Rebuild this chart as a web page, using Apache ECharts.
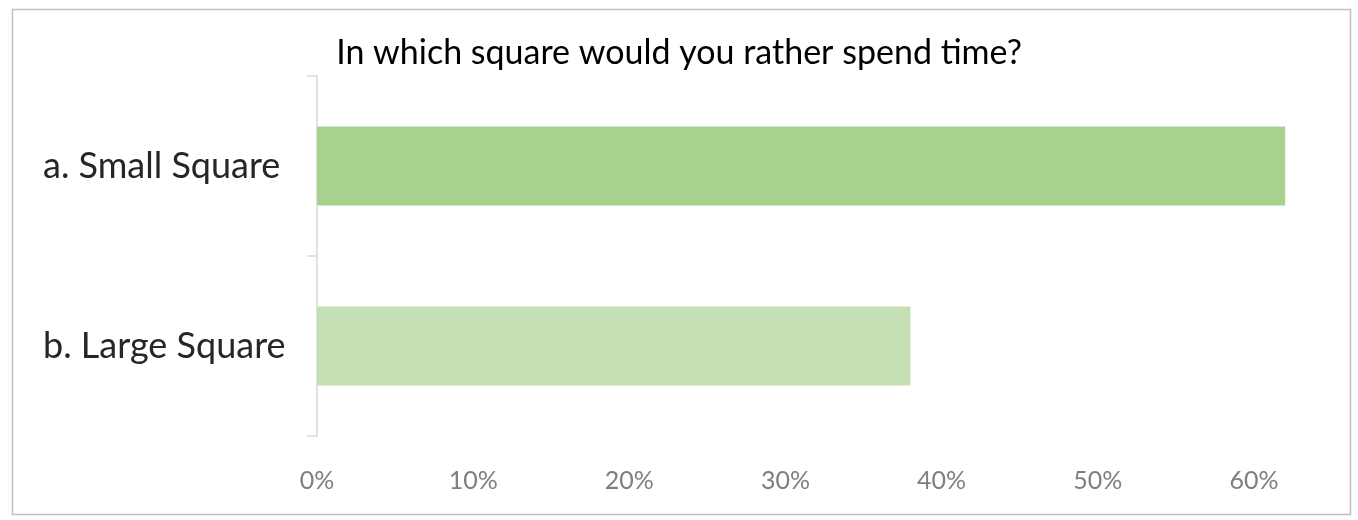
<!DOCTYPE html>
<html>
<head>
<meta charset="utf-8">
<script src="https://cdn.jsdelivr.net/npm/echarts@6/dist/echarts.min.js"></script>
<style>
  html, body { margin: 0; padding: 0; background: #fff; }
  #chart { width: 1358px; height: 520px; }
</style>
</head>
<body>
<div id="chart"></div>
<script>
const categories = ['a. Small Square', 'b. Large Square'];
const shares = [0.62, 0.38];
const barColors = ['#a9d18e', '#c5e0b4'];
const titleText = 'In which square would you rather spend time?';

const chart = echarts.init(document.getElementById('chart'));

const option = {
    backgroundColor: '#fff',
    animation: false,
    title: {
        text: titleText,
        left: 'center',
        top: 31,
        textStyle: {
            color: '#000',
            fontSize: 34,
            fontWeight: 'normal',
            fontFamily: 'Lato'
        }
    },
    graphic: [{
        type: 'rect',
        shape: { x: 12.5, y: 9.5, width: 1338, height: 505 },
        style: { fill: 'none', stroke: '#bfbfbf', lineWidth: 1.5 },
        silent: true
    }],
    grid: {
        left: 317,
        right: 26,
        top: 76,
        bottom: 84
    },
    xAxis: {
        type: 'value',
        min: 0,
        max: 0.65,
        interval: 0.1,
        axisLine: { show: false },
        axisTick: { show: false },
        splitLine: { show: false },
        axisLabel: {
            showMaxLabel: false,
            margin: 32,
            color: '#7f7f7f',
            fontSize: 25,
            fontFamily: 'Lato',
            formatter: v => Math.round(v * 100) + '%'
        }
    },
    yAxis: {
        type: 'category',
        data: categories,
        inverse: true,
        axisLine: { show: true, lineStyle: { color: '#d9d9d9', width: 1.5 } },
        axisTick: { show: true, length: 10, lineStyle: { color: '#d9d9d9', width: 1.5 } },
        axisLabel: {
            margin: 317 - 43,   // left-aligned labels start near x=43
            color: '#262626',
            fontSize: 36,
            fontFamily: 'Lato',
            align: 'left',
            padding: [0, 0, 24, 0]
        }
    },
    series: [{
        type: 'bar',
        barWidth: 79,
        data: shares.map((v, i) => ({ value: v, itemStyle: { color: barColors[i] } }))
    }]
};

chart.setOption(option);
</script>
</body>
</html>
